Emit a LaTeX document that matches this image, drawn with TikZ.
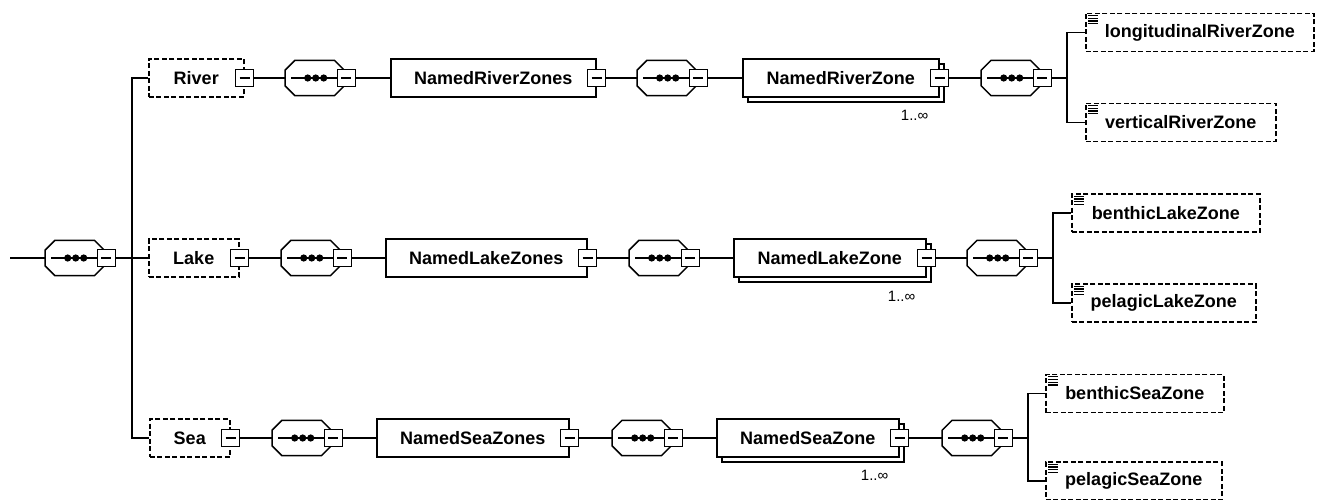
\documentclass[tikz,border=0pt]{standalone}
\usepackage{fontspec}
\setmainfont{Liberation Sans}
\tikzset{
  ln/.style={line width=1.5pt},
  box/.style={draw, line width=1.5pt, fill=white, rectangle, inner sep=0pt,
    minimum height=38pt, anchor=west, font=\bfseries\fontsize{18}{20}\selectfont},
  optbox/.style={box, dash pattern=on 5pt off 2.5pt},
  tog/.style={draw, line width=1.3pt, fill=white, rectangle, inner sep=0pt,
    minimum width=18pt, minimum height=17pt},
  seqframe/.style={rectangle, inner sep=0pt, minimum width=59pt,
    minimum height=35pt, anchor=west},
  mult/.style={font=\fontsize{15}{17}\selectfont, inner sep=0pt, anchor=east},
}
% collapse toggle with a minus sign
\newcommand\togat[2]{%
  \node[tog] (#1) at (#2) {};
  \draw[line width=1.3pt] ([xshift=-5pt]#1.center) -- ([xshift=5pt]#1.center);}
% sequence compositor: octagon, three dots, toggle
\newcommand\seqgrp[3]{%
  \node[seqframe] (#1) at (#2,#3) {};
  \draw[ln, fill=white] ([xshift=10pt]#1.north west) -- ([xshift=-10pt]#1.north east)
    -- ([yshift=-10pt]#1.north east) -- ([yshift=10pt]#1.south east)
    -- ([xshift=-10pt]#1.south east) -- ([xshift=10pt]#1.south west)
    -- ([yshift=10pt]#1.south west) -- ([yshift=-10pt]#1.north west) -- cycle;
  \togat{#1-t}{[xshift=2pt]#1.east}
  \draw[ln] ([xshift=6pt]#1.west) -- (#1-t.west);
  \foreach \dx in {-8,0,8} \fill ([xshift={\dx*1pt+1pt}]#1.center) circle (3.6pt);}
% simple-content icon in the corner of an element box
\newcommand\icon[1]{%
  \foreach \k in {0,...,3}
    \draw[line width=1.3pt] ([xshift=3pt, yshift={-3pt-2.7pt*\k}]#1.north west) -- ++(10pt,0pt);}
\begin{document}
\begin{tikzpicture}[x=1pt, y=-1pt]
\useasboundingbox (0,0) rectangle (1325,500);

% root sequence
\coordinate (in) at (10,258);
\seqgrp{root}{45}{258}
\coordinate (trunk) at (132,258);

% ---------- River ----------
\node[optbox, minimum width=95pt] (riv) at (148,78) {River};
\togat{riv-t}{riv.east}
\seqgrp{r1}{285}{78}
\node[box, minimum width=205pt] (nrzs) at (390,78) {NamedRiverZones};
\togat{nrzs-t}{nrzs.east}
\seqgrp{r2}{637}{78}
\node[box, minimum width=196pt] (nrz-s) at (747,83) {};
\node[box, minimum width=196pt] (nrz) at (742,78) {NamedRiverZone};
\togat{nrz-t}{nrz.east}
\node[mult] (nrz-m) at ([xshift=-16pt]nrz-s.east |- 0,115) {1..∞};
\seqgrp{r3}{981}{78}
\coordinate (rb) at (1067,78);
\node[optbox, minimum width=228pt] (lon) at (1085,32.5) {longitudinalRiverZone};
\icon{lon}
\node[optbox, minimum width=190pt] (ver) at (1085,122.5) {verticalRiverZone};
\icon{ver}

% ---------- Lake ----------
\node[optbox, minimum width=90pt] (lak) at (148,258) {Lake};
\togat{lak-t}{lak.east}
\seqgrp{l1}{281}{258}
\node[box, minimum width=201pt] (nlzs) at (385,258) {NamedLakeZones};
\togat{nlzs-t}{nlzs.east}
\seqgrp{l2}{629}{258}
\node[box, minimum width=192pt] (nlz-s) at (738,263) {};
\node[box, minimum width=192pt] (nlz) at (733,258) {NamedLakeZone};
\togat{nlz-t}{nlz.east}
\node[mult] (nlz-m) at ([xshift=-16pt]nlz-s.east |- 0,296) {1..∞};
\seqgrp{l3}{967}{258}
\coordinate (lb) at (1053,258);
\node[optbox, minimum width=188pt] (blz) at (1071,213) {benthicLakeZone};
\icon{blz}
\node[optbox, minimum width=184pt] (plz) at (1071,303) {pelagicLakeZone};
\icon{plz}

% ---------- Sea ----------
\node[optbox, minimum width=80pt] (sea) at (149,438) {Sea};
\togat{sea-t}{sea.east}
\seqgrp{s1}{272}{438}
\node[box, minimum width=192pt] (nszs) at (376,438) {NamedSeaZones};
\togat{nszs-t}{nszs.east}
\seqgrp{s2}{612}{438}
\node[box, minimum width=182pt] (nsz-s) at (721,443) {};
\node[box, minimum width=182pt] (nsz) at (716,438) {NamedSeaZone};
\togat{nsz-t}{nsz.east}
\node[mult] (nsz-m) at ([xshift=-16pt]nsz-s.east |- 0,475) {1..∞};
\seqgrp{s3}{942}{438}
\coordinate (sb) at (1028,438);
\node[optbox, minimum width=178pt] (bsz) at (1045,393.5) {benthicSeaZone};
\icon{bsz}
\node[optbox, minimum width=176pt] (psz) at (1045,481) {pelagicSeaZone};
\icon{psz}

% ---------- connectors ----------
\draw[ln] (in) -- (root.west);
\draw[ln] (root-t.east) -- (lak.west);
\draw[ln] (riv.west) -| (trunk) |- (sea.west);

\draw[ln] (riv-t.east) -- (r1.west);
\draw[ln] (r1-t.east) -- (nrzs.west);
\draw[ln] (nrzs-t.east) -- (r2.west);
\draw[ln] (r2-t.east) -- (nrz.west);
\draw[ln] (nrz-t.east) -- (r3.west);
\draw[ln] (r3-t.east) -- (rb);
\draw[ln] (lon.west) -| (rb) |- (ver.west);

\draw[ln] (lak-t.east) -- (l1.west);
\draw[ln] (l1-t.east) -- (nlzs.west);
\draw[ln] (nlzs-t.east) -- (l2.west);
\draw[ln] (l2-t.east) -- (nlz.west);
\draw[ln] (nlz-t.east) -- (l3.west);
\draw[ln] (l3-t.east) -- (lb);
\draw[ln] (blz.west) -| (lb) |- (plz.west);

\draw[ln] (sea-t.east) -- (s1.west);
\draw[ln] (s1-t.east) -- (nszs.west);
\draw[ln] (nszs-t.east) -- (s2.west);
\draw[ln] (s2-t.east) -- (nsz.west);
\draw[ln] (nsz-t.east) -- (s3.west);
\draw[ln] (s3-t.east) -- (sb);
\draw[ln] (bsz.west) -| (sb) |- (psz.west);
\end{tikzpicture}
\end{document}
